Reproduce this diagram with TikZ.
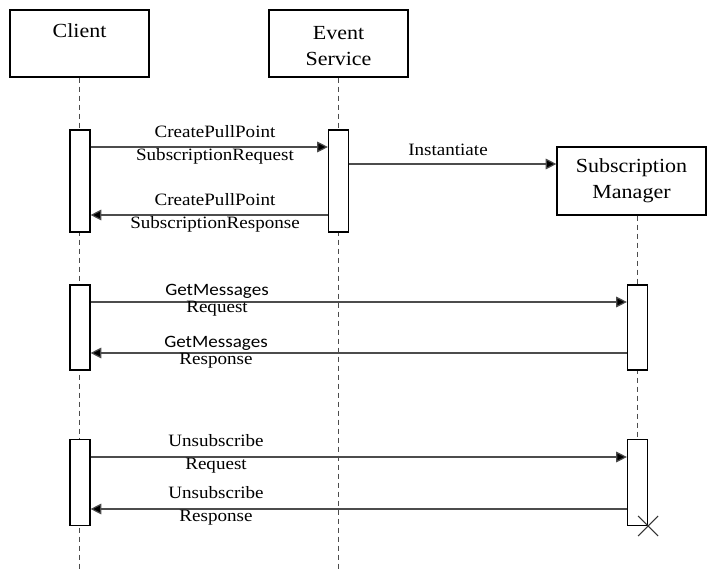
\documentclass[tikz,border=0pt]{standalone}
\usepackage{fontspec}
\setmainfont{Liberation Serif}[FakeStretch=1.1]
\setsansfont{Carlito}[FakeStretch=1.1]
\usetikzlibrary{arrows.meta}

\begin{document}
\begin{tikzpicture}[x=0.75pt,y=0.75pt,yscale=-1,xscale=1,
  lifebox/.style={draw,line width=0.9pt,fill=white,inner sep=0pt,align=center,
    minimum width=104.25pt,minimum height=50.25pt,font=\fontsize{15}{19.5}\selectfont},
  actbox/.style={draw,line width=0.9pt,fill=white,inner sep=0pt,minimum width=15pt},
  lifeline/.style={draw=black!70,line width=0.7pt,dash pattern=on 3.75pt off 3pt},
  msg/.style={draw=black!70,line width=0.9pt,-{Triangle[length=8pt,width=8pt,fill=black]}},
  lbl/.style={inner sep=0pt,align=center,font=\fontsize{13}{17.25}\selectfont}]
\useasboundingbox (0,0) rectangle (707,570);

%Lifeline heads
\node[lifebox] (client) at (79.5,43.5) {\rule{0pt}{16pt}Client\\\strut};
\node[lifebox] (evtsrv) at (338.5,43.5) {\rule{0pt}{14pt}Event\\Service};
\node[lifebox,minimum width=111.75pt,minimum height=51pt] (mgr) at (631.5,181) {Subscription\\Manager};

%Lifelines
\coordinate (bot) at (0,570);
\coordinate (mgrend) at (637.5,439);
\draw[lifeline] (client.south) -- (client.south |- bot);
\draw[lifeline] (evtsrv.south) -- (evtsrv.south |- bot);
\draw[lifeline] (mgr.south -| mgrend) -- (mgrend);

%Activation boxes
\node[actbox,minimum height=76.5pt] (actC1) at (80,181) {};
\node[actbox,minimum height=76.5pt] (actE1) at (338.5,181) {};
\node[actbox,minimum height=63.75pt] (actC2) at (80,327.5) {};
\node[actbox,minimum height=63.75pt] (actS2) at (637.5,327.5) {};
\node[actbox,minimum height=64.5pt] (actC3) at (80,482.5) {};
\node[actbox,minimum height=64.5pt] (actS3) at (637.5,482.5) {};

%Message heights
\coordinate (m1) at (0,147);
\coordinate (m2) at (0,164);
\coordinate (m3) at (0,215);
\coordinate (m4) at (0,302);
\coordinate (m5) at (0,353);
\coordinate (m6) at (0,457);
\coordinate (m7) at (0,509);

%Messages
\draw[msg] (actC1.east |- m1) -- (actE1.west |- m1);
\draw[msg] (actE1.east |- m2) -- (mgr.west |- m2);
\draw[msg] (actE1.west |- m3) -- (actC1.east |- m3);
\draw[msg] (actC2.east |- m4) -- (actS2.west |- m4);
\draw[msg] (actS2.west |- m5) -- (actC2.east |- m5);
\draw[msg] (actC3.east |- m6) -- (actS3.west |- m6);
\draw[msg] (actS3.west |- m7) -- (actC3.east |- m7);

%Destruction mark
\draw[line width=0.8pt,black!80] ([shift={(-10,-10)}]actS3.south east) -- ([shift={(10,10)}]actS3.south east)
  ([shift={(-10,10)}]actS3.south east) -- ([shift={(10,-10)}]actS3.south east);

% Text Node
\node[lbl] (lblReq1) at (215,144.5) {CreatePullPoint\\SubscriptionRequest};
\node[lbl] (lblInst) at (448,150) {Instantiate};
\node[lbl] (lblRes1) at (215,213) {CreatePullPoint\\SubscriptionResponse};
\node[lbl] (lblReq2) at (217,300.5) {{\sffamily GetMessages}\\[-4.5pt]Request};
\node[lbl] (lblRes2) at (216,352) {{\sffamily GetMessages}\\[-4.5pt]Response};
\node[lbl] (lblReq3) at (216,453.5) {Unsubscribe\\Request};
\node[lbl] (lblRes3) at (216,506) {Unsubscribe\\Response};

\end{tikzpicture}
\end{document}
